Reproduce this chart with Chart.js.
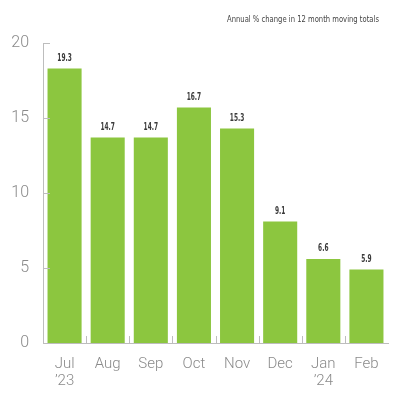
<!DOCTYPE html>
<html>
<head>
<meta charset="utf-8">
<script src="https://cdn.jsdelivr.net/npm/chart.js@4"></script>
<style>html,body{margin:0;padding:0;background:#fff;}canvas{display:block;}</style>
</head>
<body>
<canvas id="c" width="400" height="400"></canvas>
<script>
const categories = [['Jul', '\u201923'], 'Aug', 'Sep', 'Oct', 'Nov', 'Dec', ['Jan', '\u201924'], 'Feb'];
const barValues = [18.3, 13.7, 13.7, 15.7, 14.3, 8.1, 5.6, 4.9];
const valueLabels = ['19.3', '14.7', '14.7', '16.7', '15.3', '9.1', '6.6', '5.9'];
const yMin = 0, yMax = 20, yStep = 5;
const chartTitle = 'Annual % change in 12 month moving totals';

const AXIS = '#bdbdbd';
const narrow = '"DejaVu Sans Condensed", "Liberation Sans Narrow", sans-serif';

// draw text squeezed horizontally by factor sx
function squeezed(ctx, text, x, y, sx, align) {
  ctx.save();
  ctx.translate(x, y);
  ctx.scale(sx, 1);
  ctx.textAlign = align;
  ctx.fillText(text, 0, 0);
  ctx.restore();
}

const extras = {
  id: 'extras',
  afterDatasetsDraw(chart) {
    const ctx = chart.ctx;
    const meta = chart.getDatasetMeta(0);
    ctx.save();
    ctx.fillStyle = '#3a3a3a';
    ctx.font = '600 11px ' + narrow;
    ctx.textBaseline = 'middle';
    const lblScale = 14.5 / ctx.measureText('19.3').width;
    meta.data.forEach((bar, i) => {
      squeezed(ctx, valueLabels[i], bar.x, bar.y - 10.5, lblScale, 'center');
    });
    // inward ticks
    const ca = chart.chartArea;
    const ys = chart.scales.y, xs = chart.scales.x;
    ctx.strokeStyle = AXIS;
    ctx.lineWidth = 1;
    ctx.beginPath();
    ys.ticks.forEach(t => {
      if (t.value === yMin) return;
      const y = Math.round(ys.getPixelForValue(t.value)) + 0.5;
      ctx.moveTo(ca.left, y);
      ctx.lineTo(ca.left + 7, y);
    });
    for (let i = 1; i < categories.length; i++) {
      const x = Math.round((xs.getPixelForTick(i - 1) + xs.getPixelForTick(i)) / 2) + 0.5;
      ctx.moveTo(x, ca.bottom);
      ctx.lineTo(x, ca.bottom - 7);
    }
    ctx.stroke();
    // title
    ctx.fillStyle = '#444';
    ctx.font = '9px ' + narrow;
    ctx.textBaseline = 'middle';
    const tScale = 152 / ctx.measureText(chartTitle).width;
    squeezed(ctx, chartTitle, 379, 20, tScale, 'right');
    ctx.restore();
  }
};

new Chart(document.getElementById('c'), {
  type: 'bar',
  data: {
    labels: categories,
    datasets: [{
      data: barValues,
      backgroundColor: '#8cc63f',
      borderWidth: 0,
      categoryPercentage: 1,
      barPercentage: 0.79
    }]
  },
  options: {
    responsive: false,
    animation: false,
    devicePixelRatio: 1,
    layout: { padding: { top: 43, right: 12, bottom: 0, left: 0 } },
    plugins: { legend: { display: false }, tooltip: { enabled: false }, title: { display: false } },
    scales: {
      x: {
        grid: { display: false },
        border: { display: true, color: AXIS, width: 1 },
        ticks: { color: '#8a8a8a', font: { family: 'Roboto', size: 15, weight: '300', lineHeight: 1.1 }, padding: 5, maxRotation: 0, autoSkip: false },
        afterFit(s) { s.height = 57; }
      },
      y: {
        min: yMin, max: yMax,
        grid: { display: false },
        border: { display: true, color: AXIS, width: 1 },
        ticks: { stepSize: yStep, color: '#8a8a8a', font: { family: 'Roboto', size: 16, weight: '300' }, padding: 6 },
        afterFit(s) { s.width = 43; }
      }
    }
  },
  plugins: [extras]
});
</script>
</body>
</html>
